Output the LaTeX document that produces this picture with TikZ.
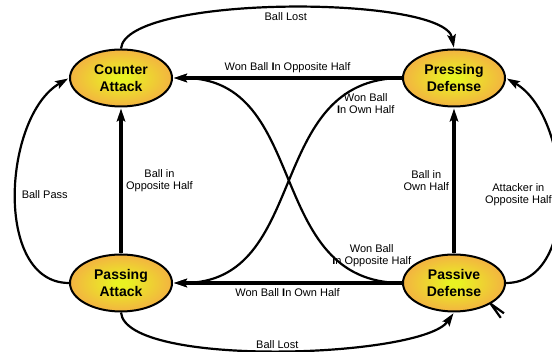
\documentclass[tikz,border=0pt]{standalone}
\usepackage{fontspec}
\setmainfont{Liberation Sans}
\usepackage{tikz}
\usetikzlibrary{arrows.meta,shapes.geometric}
\definecolor{phasein}{HTML}{E9F222}
\definecolor{phaseout}{HTML}{F5A548}
\pgfdeclareradialshading{phaseshade}{\pgfpoint{0bp}{0bp}}{color(0bp)=(phasein); color(3bp)=(phasein); color(30bp)=(phaseout); color(50bp)=(phaseout)}

\begin{document}
\begin{tikzpicture}[>={Stealth[length=13pt,width=8.5pt,inset=2.5pt]},shorten >=1pt,auto,x=1pt,y=1pt,node distance=333pt,
  phase/.style={ellipse,draw,line width=2pt,shading=phaseshade,minimum width=102pt,minimum height=57pt,
    inner sep=0pt,align=center,font=\bfseries\fontsize{14}{16.5}\selectfont},
  lbl/.style={font=\fontsize{11}{12.5}\selectfont,align=center},
  flow/.style={line width=2.2pt},
  main/.style={line width=3.5pt}]
  \useasboundingbox (0,0) rectangle (552,352);

  \node[phase] (ca) at (121,274)			 {Counter\\Attack};
  \node[phase]         (pd) [right of=ca] {Pressing\\Defense};
  \node[phase]         (pa) [below of=ca,node distance=205pt] {Passing\\Attack};
  \node[phase]         (pv) [right of=pa] {Passive\\Defense};

  \path[->] (ca.north) edge [flow,out=85,in=100,looseness=0.42] node[lbl,below,inner sep=2pt,yshift=-1pt] {Ball Lost} (pd.north)
        (pd) edge [main] node[lbl,swap] {Won Ball \textbf{I}n Opposite Half} (ca)
        (pd.west) edge [flow,out=180,in=0,looseness=1.15] node[lbl,pos=0.1,below,yshift=-5pt] {Won Ball\\\textbf{I}n Own Half} (pa.east)
        (pv.west) edge [flow,out=180,in=0,looseness=1.15] node[lbl,pos=0.1,above,xshift=6pt,yshift=6pt] {Won Ball\\\textbf{I}n Opposite Half} (ca.east)
        (pv) edge [main] node[lbl] {Won Ball \textbf{I}n Own Half} (pa)
        (pa) edge [main] node[lbl,right] {Ball in\\Opposite Half} (ca)
        (pv) edge [main] node[lbl,left] {Ball in\\Own Half} (pd)
        (pa.west) edge [flow,out=180,in=210,looseness=0.95] node[lbl,right,xshift=1.5pt] {Ball Pass} (ca.west)
        (pv.east) edge [flow,out=0,in=330,looseness=0.95] node[lbl,left,xshift=-3pt] {Attacker in\\Opposite Half} (pd.east)
        (pa.south) edge [flow,out=275,in=235,looseness=0.43] node[lbl,above,inner sep=1pt] {Ball Lost} (pv.south);

  \draw[flow] (pv.south east) -- +(10,-14)
        (pv.south east) -- +(14,-10);
\end{tikzpicture}
\end{document}
